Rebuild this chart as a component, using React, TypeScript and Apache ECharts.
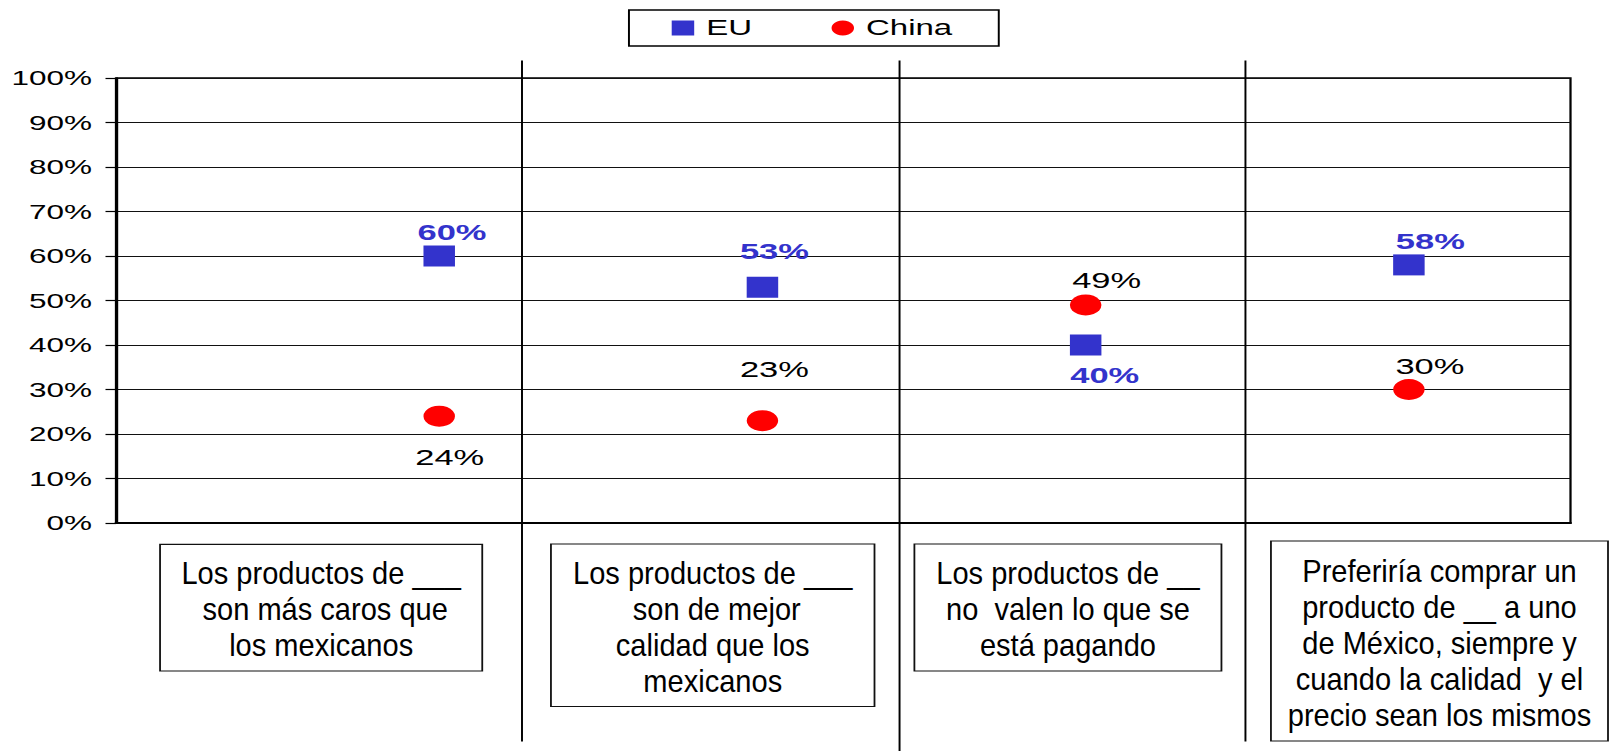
import React, { useEffect, useRef } from "react";
import * as echarts from "echarts";

// ---------- data ----------
const categories: string[] = [
  "Los productos de ___\n son más caros que\nlos mexicanos",
  "Los productos de ___\n son de mejor\ncalidad que los\nmexicanos",
  "Los productos de __\nno  valen lo que se\nestá pagando",
  "Preferiría comprar un\nproducto de __ a uno\nde México, siempre y\ncuando la calidad  y el\nprecio sean los mismos",
];
const seriesNames: string[] = ["EU", "China"];
const euValues: number[] = [60, 53, 40, 58];
const chinaValues: number[] = [24, 23, 49, 30];
const yMin = 0;
const yMax = 100;
const yStep = 10;

// ---------- layout (unstretched coordinates) ----------
const STRETCH = 1.5;
const W = 1610 / STRETCH;
const H = 751;
const FONT = "'Liberation Sans', Arial, Helvetica, sans-serif";
const EU_COLOR = "#3333CC";
const CHINA_COLOR = "#FF0000";

const boxLayout = [
  { x: 106.7, y: 544.3, w: 214.8, h: 126.7 },
  { x: 367.3, y: 544, w: 215.7, h: 162.5 },
  { x: 609.6, y: 544, w: 204.7, h: 127 },
  { x: 847.3, y: 541, w: 224.7, h: 200 },
];
const separatorLayout = [
  { x: 348, y1: 60.6, y2: 741.5 },
  { x: 599.7, y1: 60.6, y2: 751 },
  { x: 830.3, y1: 60.6, y2: 741.5 },
];
const euLabelOffset = [
  [8.5, -24],
  [8, -36.5],
  [12.7, 29.5],
  [14.3, -24],
];
const chinaLabelOffset = [
  [7, 41],
  [8, -52],
  [14, -25],
  [14, -24],
];

export default function App() {
  const ref = useRef<HTMLDivElement>(null);

  useEffect(() => {
    if (!ref.current) return;
    const chart = echarts.init(ref.current, undefined, { renderer: "svg" });

    const graphics: any[] = [];
    separatorLayout.forEach((s) => {
      graphics.push({
        type: "line",
        shape: { x1: s.x, y1: s.y1, x2: s.x, y2: s.y2 },
        style: { stroke: "#000", lineWidth: 1.3 },
        z: 1,
      });
    });
    categories.forEach((c, i) => {
      const b = boxLayout[i];
      graphics.push({
        type: "rect",
        shape: { x: b.x, y: b.y, width: b.w, height: b.h },
        style: { fill: "#fff", stroke: "#111", lineWidth: 1.2 },
        z: 2,
      });
      graphics.push({
        type: "text",
        x: b.x + b.w / 2,
        y: b.y + b.h / 2 + 2,
        scaleX: 0.625,
        style: {
          text: c,
          fill: "#000",
          font: `31px ${FONT}`,
          lineHeight: 36,
          align: "center",
          verticalAlign: "middle",
        },
        z: 3,
      });
    });

    const makeData = (vals: number[], offs: number[][]) =>
      vals.map((v, i) => ({ value: [i, v], label: { offset: offs[i] } }));

    chart.setOption({
      animation: false,
      backgroundColor: "#fff",
      textStyle: { fontFamily: FONT },
      grid: {
        left: 77.33,
        right: 26,
        top: 78,
        bottom: 228,
        show: true,
        borderColor: "#000",
        borderWidth: 1.5,
      },
      legend: {
        data: [
          { name: seriesNames[0], icon: "rect" },
          { name: seriesNames[1], icon: "circle" },
        ],
        left: 419.3,
        top: 10,
        orient: "horizontal",
        itemWidth: 15,
        itemHeight: 15,
        itemGap: 53,
        padding: [6, 31, 6, 28.5],
        borderColor: "#000",
        borderWidth: 1.3,
        itemStyle: { opacity: 1 },
        textStyle: {
          fontSize: 22,
          color: "#000",
          fontFamily: FONT,
          lineHeight: 24,
          padding: [0, 0, 0, 3],
        },
      },
      xAxis: {
        type: "value",
        min: -1,
        max: 3.5,
        axisLine: { show: true, onZero: false, lineStyle: { color: "#000", width: 2 } },
        axisTick: { show: false },
        axisLabel: { show: false },
        splitLine: { show: false },
      },
      yAxis: {
        type: "value",
        min: yMin,
        max: yMax,
        interval: yStep,
        axisLine: { show: true, onZero: false, lineStyle: { color: "#000", width: 1.6 } },
        axisTick: { show: true, length: 7, lineStyle: { color: "#000", width: 1.2 } },
        axisLabel: {
          formatter: "{value}%",
          fontSize: 21,
          color: "#000",
          margin: 16,
          fontFamily: FONT,
        },
        splitLine: { show: true, lineStyle: { color: "#111", width: 1.2 } },
      },
      series: [
        {
          name: seriesNames[0],
          type: "scatter",
          symbol: "rect",
          symbolSize: 21,
          itemStyle: { color: EU_COLOR, opacity: 1 },
          z: 5,
          label: {
            show: true,
            position: "inside",
            formatter: (p: any) => `${p.value[1]}%`,
            fontSize: 23,
            fontWeight: "bold",
            color: EU_COLOR,
            opacity: 1,
            fontFamily: FONT,
          },
          data: makeData(euValues, euLabelOffset),
        },
        {
          name: seriesNames[1],
          type: "scatter",
          symbol: "circle",
          symbolSize: 21,
          itemStyle: { color: CHINA_COLOR, opacity: 1 },
          z: 5,
          label: {
            show: true,
            position: "inside",
            formatter: (p: any) => `${p.value[1]}%`,
            fontSize: 23,
            color: "#000",
            opacity: 1,
            fontFamily: FONT,
          },
          data: makeData(chinaValues, chinaLabelOffset),
        },
      ],
      graphic: graphics,
    });

    return () => chart.dispose();
  }, []);

  return (
    <div
      style={{
        position: "absolute",
        left: 0,
        top: 0,
        width: 1610,
        height: H,
        overflow: "hidden",
        background: "#fff",
      }}
    >
      <div
        ref={ref}
        style={{
          width: W,
          height: H,
          transform: `scaleX(${STRETCH})`,
          transformOrigin: "0 0",
        }}
      />
    </div>
  );
}
